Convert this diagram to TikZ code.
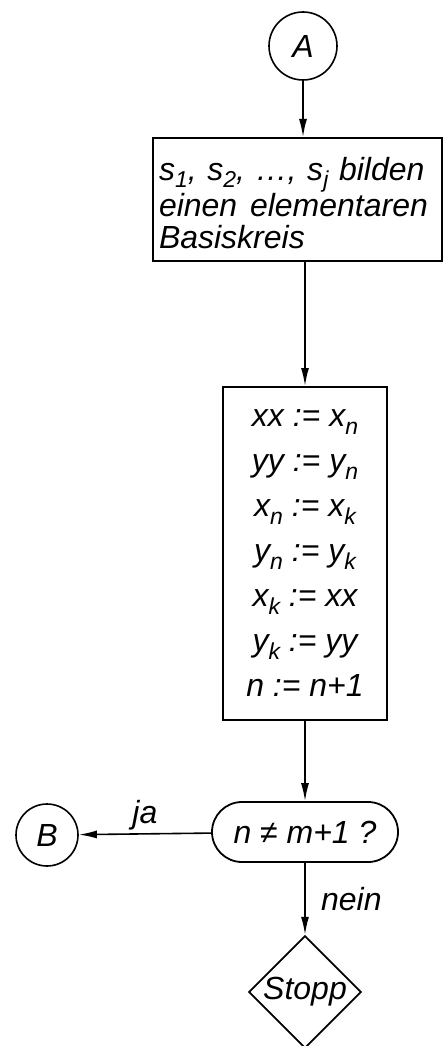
\documentclass[tikz,border=0pt]{standalone}
\usepackage{fontspec}
\setmainfont{Liberation Sans}
\usetikzlibrary{arrows.meta,positioning,shapes.geometric}
\newcommand{\idx}[1]{\raisebox{-0.45ex}{\fontsize{23}{23}\selectfont #1}}
\tikzset{
  verbinder/.style={draw, circle, line width=1.6pt, inner sep=0pt},
  anweisung/.style={draw, rectangle, line width=2pt, inner sep=6pt},
  abfrage/.style={draw, rectangle, rounded corners=30pt, line width=1.8pt,
    minimum width=186pt, minimum height=60pt},
  halt/.style={draw, diamond, aspect=1, line width=1.8pt, inner sep=0pt},
  pfeil/.style={line width=1.6pt, -{Latex[length=18pt,width=8pt]}}
}

\begin{document}
\begin{tikzpicture}[x=1pt, y=1pt, font=\fontsize{32}{32}\selectfont\itshape]
        \useasboundingbox (0,0) rectangle (447,-1046);
        % Connector and boxes
        \node[verbinder, minimum size=68pt] (A) at (303,-46) {A};
        \node[anweisung, text width=277pt, minimum height=123pt, align=left, font=\fontsize{32}{32}\selectfont\itshape]
          (kreis) at (297.5,-199.5)
          {\rule{0pt}{30pt}s\idx{1}, s\idx{2}, \dots, s\idx{j} bilden\\einen\hspace{0.4em}elementaren\\Basiskreis};
        \node[anweisung, minimum width=164pt, minimum height=333pt, align=center, font=\fontsize{32}{45}\selectfont\itshape]
          (tausch) at (305,-553.5)
          {xx := x\idx{n}\\yy := y\idx{n}\\x\idx{n} := x\idx{k}\\y\idx{n} := y\idx{k}\\x\idx{k} := xx\\y\idx{k} := yy\\n := n+1};
        \node[abfrage] (test) at (305,-832) {n ≠ m+1 ?};
        \node[verbinder, minimum size=62pt] (B) at (47,-835) {B};
        \node[halt] (stopp) at (305,-992) {Stopp};
        % Flow lines
        \draw[pfeil] (A) -- (A |- kreis.north);
        \draw[pfeil] (tausch.north |- kreis.south) -- (tausch.north);
        \draw[pfeil] (tausch) -- (test);
        \draw[pfeil] (test) -- node[above]{ja} (B);
        \draw[pfeil] (test) -- node[right, xshift=12pt]{nein} (stopp);
      \end{tikzpicture}
\end{document}
